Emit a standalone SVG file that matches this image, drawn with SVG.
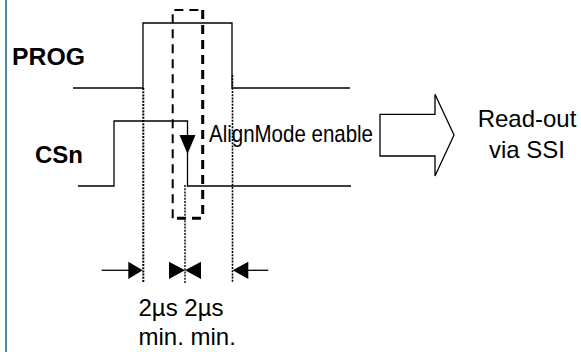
<svg xmlns="http://www.w3.org/2000/svg" width="581" height="352" viewBox="0 0 581 352">
<style>
.sig{fill:none;stroke:#000;stroke-width:1.3}
.dot{fill:none;stroke:#000;stroke-width:1.6;stroke-dasharray:2 1.2}
.dash{fill:none;stroke:#000;stroke-width:2;stroke-dasharray:9 6}
.lbl{font-family:"Liberation Sans",Arial,sans-serif;font-weight:bold;font-size:24px;fill:#000}
.txt{font-family:"Liberation Sans",Arial,sans-serif;font-size:24px;fill:#000}
.tri{fill:#000;stroke:none}
</style>
<rect width="581" height="352" fill="#fff"/>
<line x1="6" y1="0" x2="6" y2="352" stroke="#1f6e99" stroke-width="1.6"/>
<g id="prog">
<text class="lbl" x="12" y="65" textLength="73" lengthAdjust="spacingAndGlyphs">PROG</text>
<polyline class="sig" points="73,88 143,88 143,23 232,23 232,88 350,88"/>
</g>
<g id="csn">
<text class="lbl" x="35" y="163">CSn</text>
<polyline class="sig" points="78,186 114,186 114,121 187.5,121 187.5,186 351,186"/>
<polygon class="tri" points="179.5,135 195.5,135 187.5,154"/>
</g>
<g id="window">
<path class="dash" d="M172.7,218.3 L172.7,10 L202.7,10"/>
<path class="dash" d="M202.7,10 L202.7,218.3 L172.7,218.3" style="stroke-width:3"/>
</g>
<g id="alignmode">
<text class="txt" x="209" y="142" font-size="22" textLength="164" lengthAdjust="spacingAndGlyphs">AlignMode enable</text>
</g>
<g id="readout-arrow">
<path fill="#fff" stroke="#000" stroke-width="1.3" d="M380,114.3 L435,114.3 L435,94.3 L454,135 L435,176 L435,156 L380,156 Z"/>
</g>
<g id="readout">
<text class="txt" text-anchor="middle" x="527" y="127">Read-out</text>
<text class="txt" text-anchor="middle" x="527" y="158">via SSI</text>
</g>
<g id="connectors">
<line class="dot" x1="143.3" y1="88" x2="143.3" y2="283" style="stroke-width:2"/>
<line class="dot" x1="232.5" y1="75" x2="232.5" y2="283"/>
<line class="dot" x1="185" y1="185" x2="185" y2="283" style="stroke-width:1.4"/>
<line class="sig" x1="101.7" y1="270.3" x2="130" y2="270.3"/>
<polygon class="tri" points="128.3,261.7 142.7,270.3 128.3,279"/>
<polygon class="tri" points="169,261.7 185,270.3 169,279"/>
<polygon class="tri" points="201,261.7 185,270.3 201,279"/>
<polygon class="tri" points="248.3,261.7 232.7,270.3 248.3,279"/>
<line class="sig" x1="246" y1="270.3" x2="268.3" y2="270.3"/>
</g>
<g id="timing-labels">
<text class="txt" x="138.5" y="316" font-size="25">2µs 2µs</text>
<text class="txt" x="138.5" y="345" font-size="24">min. min.</text>
</g>
</svg>
